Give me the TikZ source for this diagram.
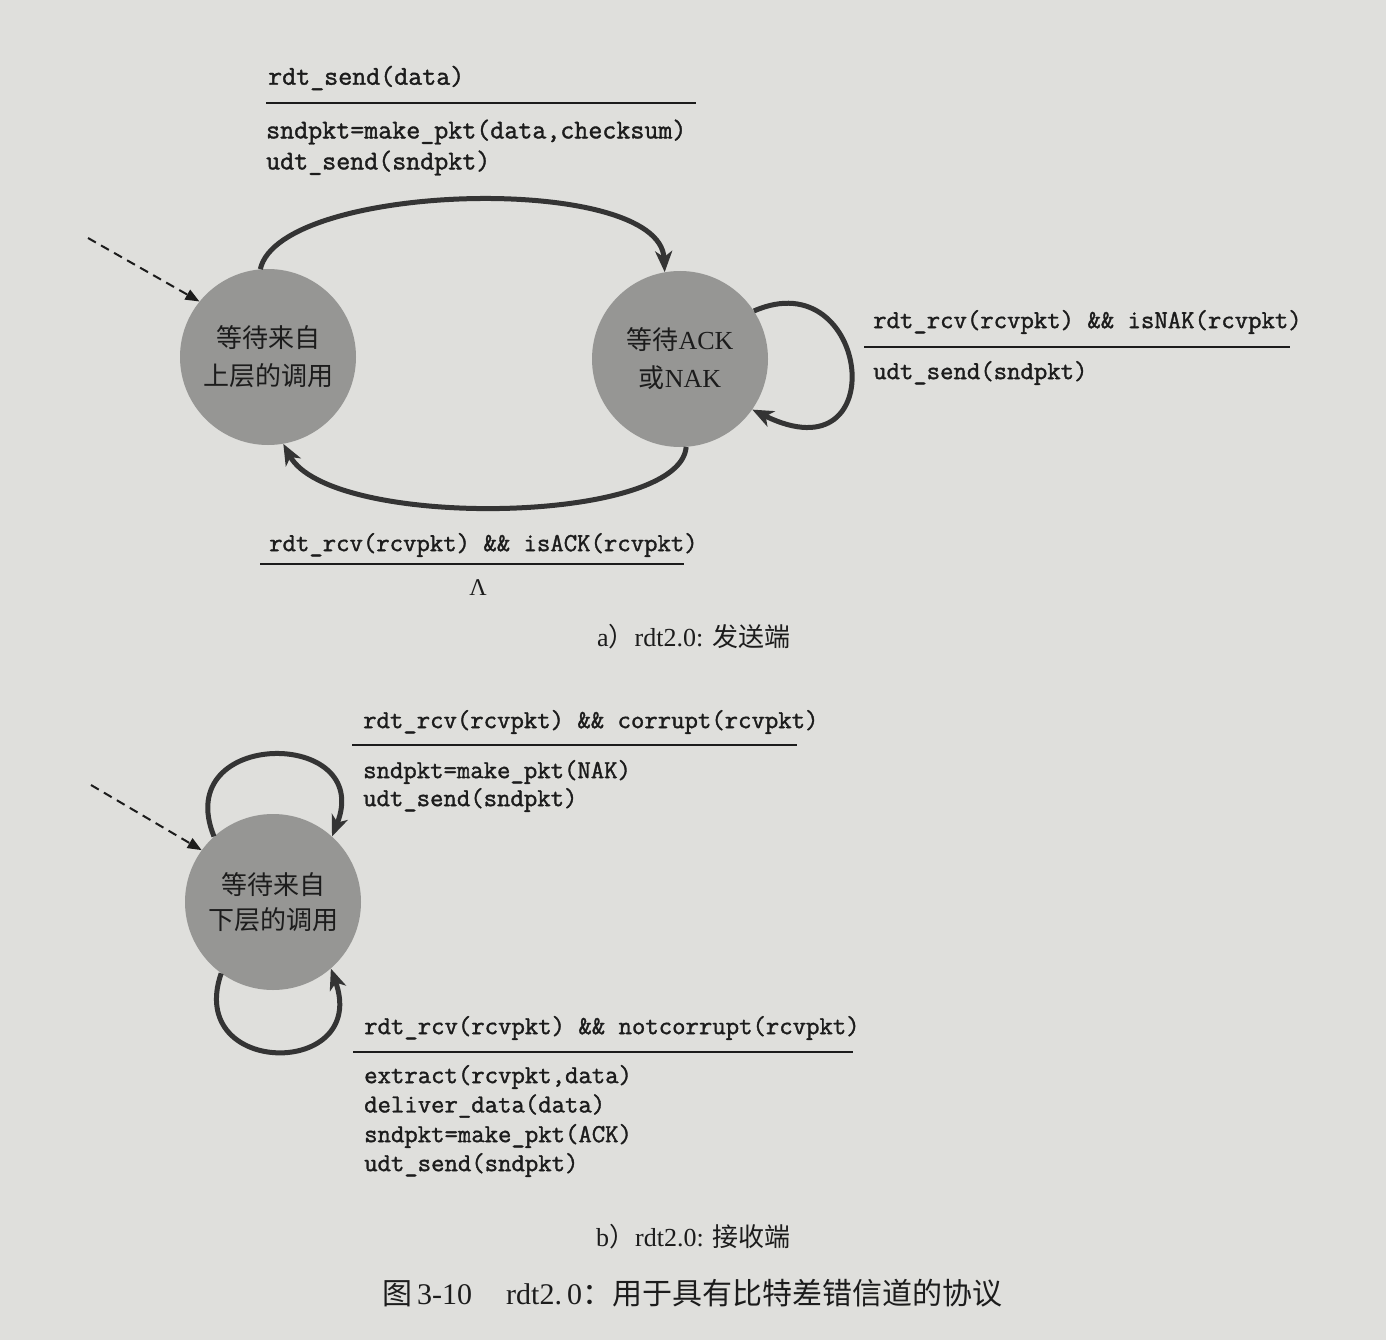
\documentclass[tikz,border=0pt]{standalone}
\usepackage{fontspec}
\setmainfont{Liberation Serif}
\setmonofont{Latin Modern Mono}[FakeBold=1.4]
\newfontfamily\cjk{Noto Sans CJK SC}
\usetikzlibrary{arrows.meta}

\definecolor{paper}{RGB}{223,223,220}
\definecolor{statefill}{RGB}{150,150,148}
\definecolor{ink}{RGB}{28,28,28}
\definecolor{edge}{RGB}{52,52,52}

\begin{document}
\begin{tikzpicture}[x=1pt,y=-1pt,
  state/.style={circle, fill=statefill, minimum size=176pt, inner sep=0pt,
    align=center, text=ink},
  trans/.style={draw=edge, line width=5pt,
    -{Stealth[length=21pt,width=17pt,inset=6pt]}},
  init/.style={draw=ink, line width=2pt, dash pattern=on 9pt off 6pt,
    -{Triangle[length=14pt,width=11pt]}},
  code/.style={anchor=west, inner sep=0pt, text=ink,
    font=\ttfamily\fontsize{26}{30}\selectfont},
  codewide/.style={code, font=\ttfamily\fontsize{27.2}{30}\selectfont},
  bar/.style={draw=ink, line width=2pt},
  caption/.style={anchor=west, inner sep=0pt, text=ink,
    font=\fontsize{26}{30}\selectfont}]

% page
\fill[paper] (0,0) rectangle (1386,1340);
\useasboundingbox (0,0) rectangle (1386,1340);

% ---------------- sender ----------------
\node[state, font=\fontsize{26}{38}\selectfont] (s1) at (268,357)
  {{\cjk 等待来自}\\{\cjk 上层的调用}};
\node[state, font=\fontsize{26}{38}\selectfont] (s2) at (680,359)
  {{\cjk 等待}ACK\\{\cjk 或}NAK};

\coordinate (i1) at (88,238);
\draw[init] (i1) -- (s1.141);

% rdt_send transition
\draw[trans] (s1.95) .. controls (280,182) and (660,172) .. (s2.100);
\node[codewide] (t1a) at (268,78) {rdt\_send(data)};
\draw[bar] (266,103) -- (696,103);
\node[codewide] (t1b) at (266,132) {sndpkt=make\_pkt(data,checksum)};
\node[codewide] (t1c) at (266,163) {udt\_send(sndpkt)};

% NAK self loop
\draw[trans] (s2.33) .. controls (870,260) and (895,480) .. (s2.-35);
\node[code] (t2a) at (873,322) {rdt\_rcv(rcvpkt) \&\& isNAK(rcvpkt)};
\draw[bar] (864,347) -- (1290,347);
\node[code] (t2b) at (873,373) {udt\_send(sndpkt)};

% ACK transition
\draw[trans] (s2.274) .. controls (680,525) and (330,530) .. (s1.280);
\node[code] (t3a) at (269,545) {rdt\_rcv(rcvpkt) \&\& isACK(rcvpkt)};
\draw[bar] (260,564) -- (684,564);
\node[inner sep=0pt, text=ink, font=\fontsize{24}{28}\selectfont] (t3b) at (478,588) {Λ};

\node[caption] (capa) at (597,637) {a{\cjk ）}rdt2.0: {\cjk 发送端}};

% ---------------- receiver ----------------
\node[state, font=\fontsize{26}{35}\selectfont] (s3) at (273,902)
  {{\cjk 等待来自}\\{\cjk 下层的调用}};

\coordinate (i2) at (91,785);
\draw[init] (i2) -- (s3.144);

% corrupt self loop
\draw[trans] (s3.132) .. controls (170,728) and (375,728) .. (s3.48);
\node[code] (r1a) at (363,722) {rdt\_rcv(rcvpkt) \&\& corrupt(rcvpkt)};
\draw[bar] (352,745) -- (797,745);
\node[code] (r1b) at (363,772) {sndpkt=make\_pkt(NAK)};
\node[code] (r1c) at (363,800) {udt\_send(sndpkt)};

% notcorrupt self loop
\draw[trans] (s3.234) .. controls (185,1078) and (370,1078) .. (s3.311);
\node[code] (r2a) at (364,1028) {rdt\_rcv(rcvpkt) \&\& notcorrupt(rcvpkt)};
\draw[bar] (353,1052) -- (853,1052);
\node[code] (r2b) at (364,1077) {extract(rcvpkt,data)};
\node[code] (r2c) at (364,1106) {deliver\_data(data)};
\node[code] (r2d) at (364,1136) {sndpkt=make\_pkt(ACK)};
\node[code] (r2e) at (364,1165) {udt\_send(sndpkt)};

\node[caption] (capb) at (596,1237) {b{\cjk ）}rdt2.0: {\cjk 接收端}};

% figure caption
\node[caption, font=\fontsize{30}{34}\selectfont] (fig) at (382,1293)
  {{\cjk 图}\,3-10\hspace{34pt}rdt2.\,0{\cjk ：用于具有比特差错信道的协议}};

\end{tikzpicture}
\end{document}
